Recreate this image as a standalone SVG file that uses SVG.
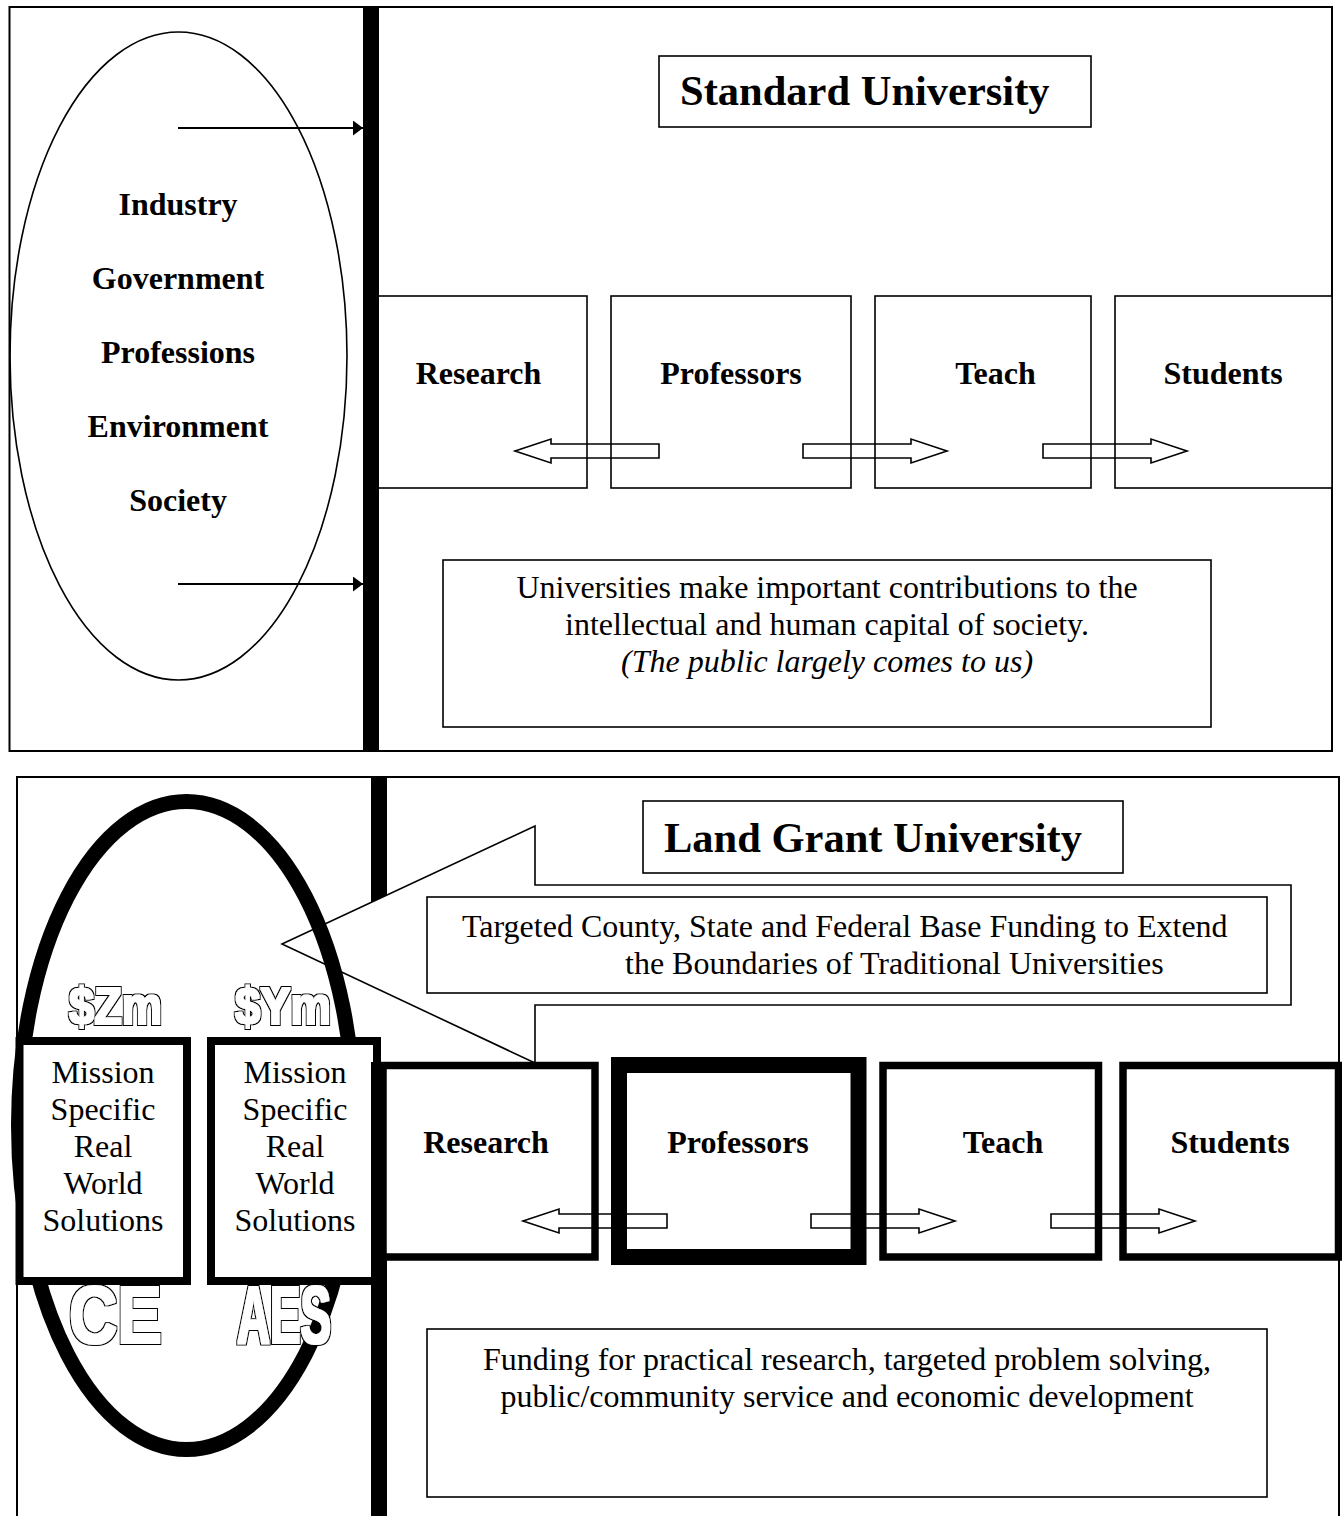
<svg xmlns="http://www.w3.org/2000/svg" width="1342" height="1516" viewBox="0 0 1342 1516">
<style>
.panel{fill:#fff;stroke:#000;stroke-width:2}
.thin{fill:#fff;stroke:#000;stroke-width:1.6}
.blk{fill:#fff;stroke:#000;stroke-width:7.5}
.bold{font-family:"Liberation Serif","Times New Roman",serif;font-weight:bold;font-size:32px;fill:#000;text-anchor:middle}
.title{font-family:"Liberation Serif","Times New Roman",serif;font-weight:bold;font-size:42.5px;fill:#000}
.body{font-family:"Liberation Serif","Times New Roman",serif;font-size:32px;fill:#000;text-anchor:middle}
.bodyl{font-family:"Liberation Serif","Times New Roman",serif;font-size:32px;fill:#000;text-anchor:start}
.outl{font-family:"Liberation Sans",Arial,sans-serif;font-weight:bold;fill:#000;filter:url(#fat)}
.barrow{fill:none;stroke:#000;stroke-width:1.6}
</style>
<defs>
<marker id="ah" markerWidth="10" markerHeight="15" refX="10" refY="7.5" orient="auto" markerUnits="userSpaceOnUse">
<path d="M0,0 L10,7.5 L0,15 Z" fill="#000"/>
</marker>
<filter id="fat" x="-10%" y="-10%" width="120%" height="120%">
<feMorphology in="SourceAlpha" operator="dilate" radius="2.3" result="outer"/>
<feMorphology in="SourceAlpha" operator="dilate" radius="0.9" result="inner"/>
<feFlood flood-color="#ffffff" result="w"/>
<feComposite in="w" in2="inner" operator="in" result="wi"/>
<feMerge><feMergeNode in="outer"/><feMergeNode in="wi"/></feMerge>
</filter>
</defs>
<rect width="1342" height="1516" fill="#fff"/>

<!-- ===== Top panel ===== -->
<g id="top-panel">
<rect class="panel" x="9.5" y="7" width="1322.5" height="744"/>
</g>
<g id="top-ellipse">
<ellipse cx="178.5" cy="356" rx="168.5" ry="324" fill="none" stroke="#000" stroke-width="1.6"/>
<text class="bold" x="178" y="215">Industry</text>
<text class="bold" x="178" y="289">Government</text>
<text class="bold" x="178" y="363">Professions</text>
<text class="bold" x="178" y="437">Environment</text>
<text class="bold" x="178" y="511">Society</text>
</g>
<g id="top-title">
<rect class="thin" x="659" y="56" width="432" height="71"/>
<text class="title" x="680" y="105">Standard University</text>
</g>
<g id="top-research"><rect class="thin" x="375" y="296" width="212" height="192"/><text class="bold" x="478.5" y="384">Research</text></g>
<g id="top-professors"><rect class="thin" x="611" y="296" width="240" height="192"/><text class="bold" x="731" y="384">Professors</text></g>
<g id="top-teach"><rect class="thin" x="875" y="296" width="216" height="192"/><text class="bold" x="995.5" y="384">Teach</text></g>
<g id="top-students"><rect class="thin" x="1115" y="296" width="217" height="192"/><text class="bold" x="1223" y="384">Students</text></g>
<g id="top-note">
<rect class="thin" x="443" y="560" width="768" height="167"/>
<text class="body" x="827" y="598">Universities make important contributions to the</text>
<text class="body" x="827" y="635">intellectual and human capital of society.</text>
<text class="body" x="827" y="672" font-style="italic">(The public largely comes to us)</text>
</g>
<g id="top-bar"><rect x="363" y="7" width="16" height="744" fill="#000"/></g>

<!-- ===== Bottom panel ===== -->
<g id="bottom-panel">
<rect class="panel" x="17" y="777" width="1322" height="760"/>
</g>
<g id="bottom-ellipse">
<ellipse cx="186.5" cy="1125.5" rx="168" ry="324" fill="none" stroke="#000" stroke-width="15"/>
<text class="outl" x="69" y="1024" font-size="51" textLength="93" lengthAdjust="spacingAndGlyphs">$Zm</text>
<text class="outl" x="235" y="1024" font-size="51" textLength="96" lengthAdjust="spacingAndGlyphs">$Ym</text>
<text class="outl" x="69" y="1343" font-size="82" textLength="93" lengthAdjust="spacingAndGlyphs">CE</text>
<text class="outl" x="237" y="1343" font-size="82" textLength="94" lengthAdjust="spacingAndGlyphs">AES</text>
</g>
<g id="mission-ce">
<rect x="19.5" y="1041" width="167.5" height="240" fill="#fff" stroke="#000" stroke-width="8"/>
<text class="body" x="103" y="1083">Mission</text>
<text class="body" x="103" y="1120">Specific</text>
<text class="body" x="103" y="1157">Real</text>
<text class="body" x="103" y="1194">World</text>
<text class="body" x="103" y="1231">Solutions</text>
</g>
<g id="mission-aes">
<rect x="211" y="1041" width="166" height="240" fill="#fff" stroke="#000" stroke-width="8"/>
<text class="body" x="295" y="1083">Mission</text>
<text class="body" x="295" y="1120">Specific</text>
<text class="body" x="295" y="1157">Real</text>
<text class="body" x="295" y="1194">World</text>
<text class="body" x="295" y="1231">Solutions</text>
</g>
<g id="bottom-bar">
<polygon points="371,777 387,777 387,895 371,902.5" fill="#000"/>
<rect x="371" y="1062" width="16" height="454" fill="#000"/>
</g>
<g id="bot-research"><rect class="blk" x="383" y="1065.5" width="212" height="191.5"/><text class="bold" x="486" y="1153">Research</text></g>
<g id="bot-professors"><rect x="619" y="1065" width="239.5" height="192" fill="#fff" stroke="#000" stroke-width="16"/><text class="bold" x="738" y="1153">Professors</text></g>
<g id="bot-teach"><rect class="blk" x="883" y="1065.5" width="215.5" height="191.5"/><text class="bold" x="1003" y="1153">Teach</text></g>
<g id="bot-students"><rect class="blk" x="1123" y="1065.5" width="215.5" height="191.5"/><text class="bold" x="1230" y="1153">Students</text></g>
<g id="callout">
<polygon points="282,944 535,826 535,885 1291,885 1291,1005 535,1005 535,1063" fill="none" stroke="#000" stroke-width="1.6"/>
</g>
<g id="funding-box">
<rect class="thin" x="427" y="897" width="840" height="96"/>
<text class="bodyl" x="462" y="937">Targeted County, State and Federal Base Funding to Extend</text>
<text class="bodyl" x="625" y="974">the Boundaries of Traditional Universities</text>
</g>
<g id="bottom-title">
<rect class="thin" x="643" y="801" width="480" height="72"/>
<text class="title" x="664" y="852">Land Grant University</text>
</g>
<g id="bottom-note">
<rect class="thin" x="427" y="1329" width="840" height="168"/>
<text class="body" x="847" y="1370">Funding for practical research, targeted problem solving,</text>
<text class="body" x="847" y="1407">public/community service and economic development</text>
</g>

<!-- ===== Connectors ===== -->
<g id="connectors">
<line x1="178" y1="128" x2="363" y2="128" stroke="#000" stroke-width="2" marker-end="url(#ah)"/>
<line x1="178" y1="584" x2="363" y2="584" stroke="#000" stroke-width="2" marker-end="url(#ah)"/>
<polygon class="barrow" points="515,451 551,439 551,444 659,444 659,458 551,458 551,463"/>
<polygon class="barrow" points="947,451 911,439 911,444 803,444 803,458 911,458 911,463"/>
<polygon class="barrow" points="1187,451 1151,439 1151,444 1043,444 1043,458 1151,458 1151,463"/>
<polygon class="barrow" points="523,1221 559,1209 559,1214 667,1214 667,1228 559,1228 559,1233"/>
<polygon class="barrow" points="955,1221 919,1209 919,1214 811,1214 811,1228 919,1228 919,1233"/>
<polygon class="barrow" points="1195,1221 1159,1209 1159,1214 1051,1214 1051,1228 1159,1228 1159,1233"/>
</g>
</svg>
